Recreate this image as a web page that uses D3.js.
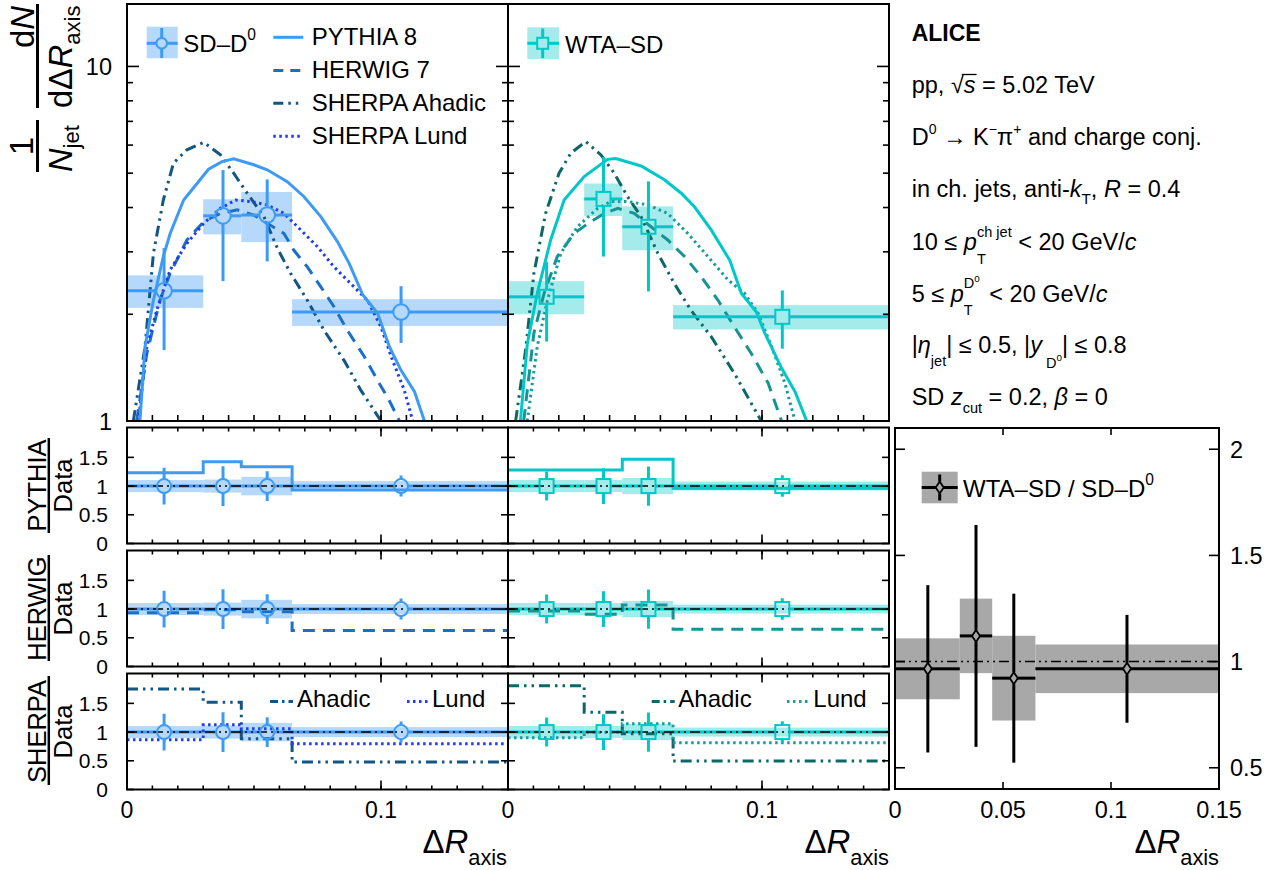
<!DOCTYPE html>
<html><head><meta charset="utf-8">
<script src="https://cdn.jsdelivr.net/npm/d3@7"></script>
<style>
html,body{margin:0;padding:0;background:#fff;}
svg{display:block;font-family:'Liberation Sans',Arial,Helvetica,sans-serif;}
svg text{white-space:pre;}
</style></head><body>
<svg id="c" width="1279" height="870"></svg>
<script>
// ---------------- DATA ----------------
const binEdges = [0, 0.03, 0.045, 0.065, 0.15];

// SD–D0 data
const sdX = [0.0146, 0.0378, 0.0552, 0.1079];
const sdY = [2.33, 3.79, 3.81, 2.03];
const sdStat = [0.745, 1.31, 0.99, 0.37];
const sdSys = [0.245, 0.43, 0.615, 0.176];

// WTA–SD data
const wtaX = [0.0152, 0.0376, 0.0553, 0.108];
const wtaY = [2.24, 4.23, 3.53, 1.967];
const wtaStat = [0.565, 1.32, 1.21, 0.368];
const wtaSys = [0.24, 0.445, 0.50, 0.155];

// WTA–SD / SD–D0 ratio
const ratioX = [0.0152, 0.0375, 0.055, 0.1074];
const ratioY = [0.966, 1.121, 0.922, 0.966];
const ratioStat = [0.394, 0.5225, 0.398, 0.254];
const ratioSys = [0.1435, 0.1755, 0.1995, 0.1145];

// Model curves, SD–D0 panel
const sdPythiaX = [0.0051,0.0071,0.0104,0.0143,0.0170,0.0223,0.0321,0.0374,0.0420,0.0499,0.0552,0.0631,0.0697,0.0763,0.0829,0.0875,0.0928,0.0987,0.1033,0.1079,0.1132,0.1171];
const sdPythiaY = [1.0,1.62,2.19,2.91,3.38,4.20,5.13,5.39,5.49,5.28,5.11,4.73,4.29,3.77,3.20,2.78,2.27,2.01,1.62,1.39,1.21,1.0];
const sdHerwigX = [0.0038,0.0078,0.0130,0.0170,0.0236,0.0302,0.0368,0.0434,0.0499,0.0552,0.0618,0.0657,0.0710,0.0763,0.0815,0.0868,0.0934,0.0987,0.1033,0.1073];
const sdHerwigY = [1.0,1.55,2.19,2.61,3.24,3.65,3.85,3.94,3.81,3.61,3.38,3.03,2.72,2.39,2.10,1.80,1.52,1.30,1.14,1.0];
const sdAhadicX = [0.0025,0.0071,0.0104,0.0143,0.0183,0.0236,0.0302,0.0368,0.0420,0.0473,0.0539,0.0592,0.0644,0.0710,0.0776,0.0855,0.0921,0.1000];
const sdAhadicY = [1.0,1.62,2.97,4.20,5.34,5.82,6.11,5.63,5.00,4.39,3.77,3.07,2.61,2.19,1.80,1.48,1.22,1.0];
const sdLundX = [0.0045,0.0078,0.0117,0.0170,0.0236,0.0302,0.0368,0.0427,0.0486,0.0552,0.0618,0.0684,0.0750,0.0815,0.0881,0.0947,0.1000,0.1046,0.1092,0.1125];
const sdLundY = [1.0,1.62,2.05,2.67,3.17,3.61,3.98,4.20,4.16,4.07,3.85,3.46,3.10,2.72,2.44,2.19,1.84,1.48,1.22,1.0];

// Model curves, WTA–SD panel
const wtaPythiaX = [0.0049,0.0076,0.0115,0.0168,0.0221,0.0300,0.0392,0.0425,0.0524,0.0616,0.0682,0.0734,0.0800,0.0873,0.0919,0.0978,0.1011,0.1077,0.1130,0.1176];
const wtaPythiaY = [1.0,1.65,2.29,3.24,4.20,4.89,5.47,5.50,5.24,4.79,4.39,4.02,3.46,2.84,2.29,2.03,1.77,1.41,1.21,1.0];
const wtaHerwigX = [0.0062,0.0102,0.0142,0.0194,0.0260,0.0326,0.0379,0.0432,0.0497,0.0563,0.0629,0.0695,0.0761,0.0827,0.0892,0.0958,0.1024,0.1077];
const wtaHerwigY = [1.0,1.77,2.29,2.91,3.38,3.65,3.85,3.98,3.85,3.53,3.24,2.91,2.55,2.19,1.84,1.55,1.28,1.0];
const wtaAhadicX = [0.0030,0.0069,0.0102,0.0148,0.0201,0.0247,0.0306,0.0366,0.0418,0.0471,0.0524,0.0590,0.0655,0.0721,0.0800,0.0892,0.0997];
const wtaAhadicY = [1.0,1.58,2.61,3.85,5.00,5.69,6.14,5.63,5.00,4.29,3.77,2.97,2.44,2.05,1.73,1.36,1.0];
const wtaLundX = [0.0076,0.0115,0.0155,0.0208,0.0273,0.0353,0.0405,0.0471,0.0550,0.0629,0.0708,0.0787,0.0866,0.0932,0.0985,0.1038,0.1090,0.1130];
const wtaLundY = [1.0,1.62,2.19,2.97,3.53,3.98,4.16,4.16,4.07,3.85,3.38,2.91,2.50,2.29,2.01,1.62,1.28,1.0];

// Model / Data ratios (per bin)
const sdPythiaRatio = [1.232, 1.424, 1.337, 0.93];
const sdHerwigRatio = [0.935, 0.99, 0.955, 0.625];
const sdAhadicRatio = [1.75, 1.518, 0.884, 0.478];
const sdLundRatio = [0.867, 1.127, 1.057, 0.797];
const wtaPythiaRatio = [1.279, 1.279, 1.466, 0.96];
const wtaHerwigRatio = [0.965, 0.908, 1.069, 0.648];
const wtaAhadicRatio = [1.808, 1.345, 0.971, 0.496];
const wtaLundRatio = [0.901, 0.998, 1.144, 0.815];

// Tick values
const topMajorY = [1, 10];
const topMinorY = [2,3,4,5,6,7,8,9];
const xMinorTicks = d3.range(16).map(i => i / 100);
const xMajorTicks = [0, 0.1];
const xTickLabels = [0, 0.1];
const ratioYTicks = [0, 0.5, 1, 1.5];
const rightXTicks = [0, 0.05, 0.1, 0.15];
const rightYTicks = [0.5, 1, 1.5, 2];

// ---------------- STYLE ----------------
const C = {
  sdData: '#3d9bf5', sdBox: '#b6d9fb', sdHerwig: '#1c6fc7', sdAhadic: '#135583', sdLund: '#1f3cf0',
  wtaData: '#00c8c8', wtaBox: '#a6ebeb', wtaHerwig: '#169494', wtaAhadic: '#0e6767', wtaLund: '#179c9c',
  grayBox: '#a8a8a8'
};
const DASH = { herwig: '12,8', ahadic: '11,5,2.5,5,2.5,5', lund: '2.5,3.5' };
const REFDASH = '10,4,2,4,2,4';

const svg = d3.select('#c');

// ---------------- SCALES ----------------
const xL = d3.scaleLinear().domain([0, 0.15]).range([127, 508]);
const xM = d3.scaleLinear().domain([0, 0.15]).range([508, 889]);
const xR = d3.scaleLinear().domain([0, 0.15]).range([895, 1219]);
const yT = d3.scaleLog().domain([1, 15]).range([421, 4]);
const rows = [{ y0: 427.5, y1: 543.5 }, { y0: 550.5, y1: 666.5 }, { y0: 673.5, y1: 789.5 }];
const yRows = rows.map(r => d3.scaleLinear().domain([0, 2.02]).range([r.y1, r.y0]));
const yRR = d3.scaleLinear().domain([0.4, 2.1]).range([789, 428]);

// ---------------- HELPERS ----------------
function rich(g, x, y, segs, fs, anchor) {
  const grp = g.append('g');
  let cx = x;
  for (const s of segs) {
    if (s.gap) { cx += s.gap; continue; }
    const size = fs * (s.s || 1);
    const t = grp.append('text').attr('x', cx).attr('y', y + (s.dy || 0) * fs)
      .attr('font-size', size).attr('fill', '#000').text(s.t);
    if (s.it) t.attr('font-style', 'italic');
    if (s.b) t.attr('font-weight', 'bold');
    const w = t.node().getComputedTextLength();
    if (s.over) grp.append('line').attr('x1', cx - 2).attr('x2', cx + w + 1)
      .attr('y1', y - 0.8 * fs).attr('y2', y - 0.8 * fs).attr('stroke', '#000').attr('stroke-width', 1.3);
    if (s.adv !== false) cx += w;
  }
  const W = cx - x;
  if (anchor === 'end') grp.attr('transform', `translate(${-W},0)`);
  else if (anchor === 'middle') grp.attr('transform', `translate(${-W / 2},0)`);
  return W;
}
function line(g, x1, y1, x2, y2, color, w, dash) {
  return g.append('line').attr('x1', x1).attr('y1', y1).attr('x2', x2).attr('y2', y2)
    .attr('stroke', color).attr('stroke-width', w).attr('stroke-dasharray', dash || null);
}
function marker(g, type, cx, cy, color, size) {
  if (type === 'circle') {
    g.append('circle').attr('cx', cx).attr('cy', cy).attr('r', size)
      .attr('fill', 'none').attr('stroke', color).attr('stroke-width', 2);
  } else if (type === 'square') {
    g.append('rect').attr('x', cx - size).attr('y', cy - size).attr('width', 2 * size).attr('height', 2 * size)
      .attr('fill', 'none').attr('stroke', color).attr('stroke-width', 2);
  } else {
    g.append('path').attr('d', `M${cx},${cy - size * 1.5}L${cx + size},${cy}L${cx},${cy + size * 1.5}L${cx - size},${cy}Z`)
      .attr('fill', 'none').attr('stroke', color).attr('stroke-width', 1.8);
  }
}
let clipId = 0;
function clipped(x0, x1, y0, y1) {
  const id = 'clip' + (clipId++);
  svg.append('clipPath').attr('id', id).append('rect').attr('x', x0).attr('y', y0).attr('width', x1 - x0).attr('height', y1 - y0);
  return svg.append('g').attr('clip-path', `url(#${id})`);
}
function xTicks(xs, yb, yt, vals, len) {
  vals.forEach(v => {
    const x = xs(v);
    if (yb !== null) line(svg, x, yb, x, yb - len, '#000', 1.6);
    if (yt !== null) line(svg, x, yt, x, yt + len, '#000', 1.6);
  });
}
function yTicks(ys, xl, xr, vals, len) {
  vals.forEach(v => {
    const y = ys(v);
    if (xl !== null) line(svg, xl, y, xl + len, y, '#000', 1.6);
    if (xr !== null) line(svg, xr, y, xr - len, y, '#000', 1.6);
  });
}

// ---------------- TOP PANELS ----------------
function topPanel(xs, d, col) {
  const [x0, x1] = xs.range();
  const g = clipped(x0, x1, 4, 421);
  d.y.forEach((v, i) => {
    g.append('rect').attr('x', xs(binEdges[i])).attr('width', xs(binEdges[i + 1]) - xs(binEdges[i]))
      .attr('y', yT(v + d.sys[i])).attr('height', yT(v - d.sys[i]) - yT(v + d.sys[i]))
      .attr('fill', col.box);
  });
  const ln = d3.line().x(p => xs(p[0])).y(p => yT(p[1]));
  d.models.forEach(m => {
    g.append('path').attr('d', ln(d3.zip(m.x, m.y))).attr('fill', 'none')
      .attr('stroke', m.color).attr('stroke-width', 3).attr('stroke-dasharray', m.dash);
  });
  const r = d.mk === 'circle' ? 7.8 : 7;
  d.y.forEach((v, i) => {
    const cx = xs(d.x[i]), cy = yT(v);
    line(g, xs(binEdges[i]), cy, cx - r, cy, col.data, 3);
    line(g, cx + r, cy, xs(binEdges[i + 1]), cy, col.data, 3);
    line(g, cx, yT(v + d.stat[i]), cx, cy - r, col.data, 3);
    line(g, cx, cy + r, cx, yT(v - d.stat[i]), col.data, 3);
    marker(g, d.mk, cx, cy, col.data, r);
  });
  svg.append('rect').attr('x', x0).attr('y', 4).attr('width', x1 - x0).attr('height', 417)
    .attr('fill', 'none').attr('stroke', '#000').attr('stroke-width', 2);
  yTicks(yT, x0, x1, topMajorY, 12);
  yTicks(yT, x0, x1, topMinorY, 6);
  xTicks(xs, 421, null, xMinorTicks, 6);
  xTicks(xs, 421, null, xMajorTicks, 11);
}

topPanel(xL, {
  x: sdX, y: sdY, stat: sdStat, sys: sdSys, mk: 'circle',
  models: [
    { x: sdAhadicX, y: sdAhadicY, color: C.sdAhadic, dash: DASH.ahadic },
    { x: sdHerwigX, y: sdHerwigY, color: C.sdHerwig, dash: DASH.herwig },
    { x: sdLundX, y: sdLundY, color: C.sdLund, dash: DASH.lund },
    { x: sdPythiaX, y: sdPythiaY, color: C.sdData, dash: null }
  ]
}, { data: C.sdData, box: C.sdBox });

topPanel(xM, {
  x: wtaX, y: wtaY, stat: wtaStat, sys: wtaSys, mk: 'square',
  models: [
    { x: wtaAhadicX, y: wtaAhadicY, color: C.wtaAhadic, dash: DASH.ahadic },
    { x: wtaHerwigX, y: wtaHerwigY, color: C.wtaHerwig, dash: DASH.herwig },
    { x: wtaLundX, y: wtaLundY, color: C.wtaLund, dash: DASH.lund },
    { x: wtaPythiaX, y: wtaPythiaY, color: C.wtaData, dash: null }
  ]
}, { data: C.wtaData, box: C.wtaBox });

topMajorY.forEach(v => {
  svg.append('text').attr('x', 112).attr('y', yT(v) + 8.5).attr('text-anchor', 'end')
    .attr('font-size', 23.5).text(v);
});

// ---------------- RATIO PANELS ----------------
function ratioPanel(xs, ys, row, d, col, models) {
  const [x0, x1] = xs.range();
  const g = clipped(x0, x1, row.y0, row.y1);
  const r = 7;
  d.y.forEach((v, i) => {
    const rs = d.sys[i] / v;
    g.append('rect').attr('x', xs(binEdges[i])).attr('width', xs(binEdges[i + 1]) - xs(binEdges[i]))
      .attr('y', ys(1 + rs)).attr('height', ys(1 - rs) - ys(1 + rs)).attr('fill', col.box);
  });
  d.y.forEach((v, i) => {
    const cx = xs(d.x[i]), cy = ys(1);
    line(g, xs(binEdges[i]), cy, cx - r, cy, col.data, 3);
    line(g, cx + r, cy, xs(binEdges[i + 1]), cy, col.data, 3);
  });
  const step = d3.line().curve(d3.curveStepAfter).x(p => xs(p[0])).y(p => ys(p[1]));
  models.forEach(m => {
    const pts = binEdges.map((e, i) => [e, m.vals[Math.min(i, m.vals.length - 1)]]);
    g.append('path').attr('d', step(pts)).attr('fill', 'none').attr('stroke', m.color)
      .attr('stroke-width', 3).attr('stroke-dasharray', m.dash);
  });
  line(g, x0, ys(1), x1, ys(1), '#000', 1.5, REFDASH);
  d.y.forEach((v, i) => {
    const cx = xs(d.x[i]), cy = ys(1), rst = d.stat[i] / v;
    line(g, cx, ys(1 + rst), cx, cy - r, col.data, 3);
    line(g, cx, cy + r, cx, ys(1 - rst), col.data, 3);
    marker(g, d.mk, cx, cy, col.data, r);
  });
  svg.append('rect').attr('x', x0).attr('y', row.y0).attr('width', x1 - x0).attr('height', row.y1 - row.y0)
    .attr('fill', 'none').attr('stroke', '#000').attr('stroke-width', 2);
  yTicks(ys, x0, x1, ratioYTicks, 7);
  xTicks(xs, row.y1, row.y0, xMinorTicks, 4);
  xTicks(xs, row.y1, row.y0, xMajorTicks, 9);
}

const sdD = { x: sdX, y: sdY, stat: sdStat, sys: sdSys, mk: 'circle' };
const wtaD = { x: wtaX, y: wtaY, stat: wtaStat, sys: wtaSys, mk: 'square' };
const sdCol = { data: C.sdData, box: C.sdBox };
const wtaCol = { data: C.wtaData, box: C.wtaBox };

ratioPanel(xL, yRows[0], rows[0], sdD, sdCol, [{ vals: sdPythiaRatio, color: C.sdData, dash: null }]);
ratioPanel(xL, yRows[1], rows[1], sdD, sdCol, [{ vals: sdHerwigRatio, color: C.sdHerwig, dash: DASH.herwig }]);
ratioPanel(xL, yRows[2], rows[2], sdD, sdCol, [
  { vals: sdAhadicRatio, color: C.sdAhadic, dash: DASH.ahadic },
  { vals: sdLundRatio, color: C.sdLund, dash: DASH.lund }]);
ratioPanel(xM, yRows[0], rows[0], wtaD, wtaCol, [{ vals: wtaPythiaRatio, color: C.wtaData, dash: null }]);
ratioPanel(xM, yRows[1], rows[1], wtaD, wtaCol, [{ vals: wtaHerwigRatio, color: C.wtaHerwig, dash: DASH.herwig }]);
ratioPanel(xM, yRows[2], rows[2], wtaD, wtaCol, [
  { vals: wtaAhadicRatio, color: C.wtaAhadic, dash: DASH.ahadic },
  { vals: wtaLundRatio, color: C.wtaLund, dash: DASH.lund }]);

yRows.forEach(ys => {
  ratioYTicks.forEach(v => {
    svg.append('text').attr('x', 108).attr('y', ys(v) + 7.5).attr('text-anchor', 'end')
      .attr('font-size', 21).text(v);
  });
});

[xL, xM].forEach(xs => {
  xTickLabels.forEach(v => {
    svg.append('text').attr('x', xs(v)).attr('y', 818).attr('text-anchor', 'middle')
      .attr('font-size', 23).text(v);
  });
});

// ---------------- RIGHT RATIO PANEL ----------------
(function () {
  const g = clipped(895, 1219, 428, 789);
  ratioY.forEach((v, i) => {
    g.append('rect').attr('x', xR(binEdges[i])).attr('width', xR(binEdges[i + 1]) - xR(binEdges[i]))
      .attr('y', yRR(v + ratioSys[i])).attr('height', yRR(v - ratioSys[i]) - yRR(v + ratioSys[i]))
      .attr('fill', C.grayBox);
  });
  line(g, 895, yRR(1), 1219, yRR(1), '#000', 1.5, REFDASH);
  ratioY.forEach((v, i) => {
    const cx = xR(ratioX[i]), cy = yRR(v), r = 6;
    line(g, xR(binEdges[i]), cy, cx - 4, cy, '#000', 3);
    line(g, cx + 4, cy, xR(binEdges[i + 1]), cy, '#000', 3);
    line(g, cx, yRR(v + ratioStat[i]), cx, cy - r, '#000', 3);
    line(g, cx, cy + r, cx, yRR(v - ratioStat[i]), '#000', 3);
    marker(g, 'diamond', cx, cy, '#000', 4);
  });
  svg.append('rect').attr('x', 895).attr('y', 428).attr('width', 324).attr('height', 361)
    .attr('fill', 'none').attr('stroke', '#000').attr('stroke-width', 2);
  yTicks(yRR, 895, 1219, rightYTicks, 10);
  xTicks(xR, 789, 428, rightXTicks, 7);
  rightYTicks.forEach(v => {
    svg.append('text').attr('x', 1230).attr('y', yRR(v) + 8.5).attr('font-size', 23.5).text(v);
  });
  rightXTicks.forEach(v => {
    svg.append('text').attr('x', xR(v)).attr('y', 818).attr('text-anchor', 'middle')
      .attr('font-size', 23.5).text(v);
  });
  svg.append('rect').attr('x', 921.7).attr('y', 471.7).attr('width', 36).attr('height', 31.6).attr('fill', C.grayBox);
  line(svg, 921.7, 487.5, 935.7, 487.5, '#000', 3);
  line(svg, 943.7, 487.5, 957.7, 487.5, '#000', 3);
  line(svg, 939.7, 474.5, 939.7, 481.5, '#000', 3);
  line(svg, 939.7, 493.5, 939.7, 500.5, '#000', 3);
  marker(svg, 'diamond', 939.7, 487.5, '#000', 4);
  rich(svg, 963, 497, [{ t: 'WTA–SD / SD–D' }, { t: '0', s: 0.65, dy: -0.5 }], 24);
})();

// ---------------- LEGENDS ----------------
svg.append('rect').attr('x', 146.7).attr('y', 26.7).attr('width', 31).attr('height', 31.6).attr('fill', C.sdBox);
line(svg, 146.7, 43.3, 156.4, 43.3, C.sdData, 3);
line(svg, 167, 43.3, 177.7, 43.3, C.sdData, 3);
line(svg, 161.7, 28, 161.7, 38, C.sdData, 3);
line(svg, 161.7, 48.6, 161.7, 58, C.sdData, 3);
marker(svg, 'circle', 161.7, 43.3, C.sdData, 5.3);
rich(svg, 183.3, 51.7, [{ t: 'SD–D' }, { t: '0', s: 0.65, dy: -0.5 }], 24);

const legRows = [
  { label: 'PYTHIA 8', color: C.sdData, dash: null, y: 45 },
  { label: 'HERWIG 7', color: C.sdHerwig, dash: '10,7', y: 78.3 },
  { label: 'SHERPA Ahadic', color: C.sdAhadic, dash: '10,5,2.5,5,2.5,5', y: 111 },
  { label: 'SHERPA Lund', color: C.sdLund, dash: DASH.lund, y: 144 }
];
legRows.forEach(rw => {
  line(svg, 273.3, rw.y - 7.7, 303.3, rw.y - 7.7, rw.color, 3, rw.dash);
  svg.append('text').attr('x', 311.7).attr('y', rw.y).attr('font-size', 24).text(rw.label);
});

svg.append('rect').attr('x', 527.3).attr('y', 27.3).attr('width', 31.7).attr('height', 31.7).attr('fill', C.wtaBox);
line(svg, 527.3, 43.3, 537.2, 43.3, C.wtaData, 3);
line(svg, 548.2, 43.3, 559, 43.3, C.wtaData, 3);
line(svg, 542.7, 28.5, 542.7, 37.8, C.wtaData, 3);
line(svg, 542.7, 48.8, 542.7, 58, C.wtaData, 3);
marker(svg, 'square', 542.7, 43.3, C.wtaData, 5.5);
svg.append('text').attr('x', 565).attr('y', 52.7).attr('font-size', 24).text('WTA–SD');

[[270, 297, 407, 432, C.sdAhadic, C.sdLund], [651.7, 678.3, 787, 813.3, C.wtaAhadic, C.wtaLund]].forEach(a => {
  line(svg, a[0], 701.5, a[0] + 23, 701.5, a[4], 3, '8,4,2.5,4');
  svg.append('text').attr('x', a[1]).attr('y', 707).attr('font-size', 24).text('Ahadic');
  line(svg, a[2], 701.5, a[2] + 23, 701.5, a[5], 3, DASH.lund);
  svg.append('text').attr('x', a[3]).attr('y', 707).attr('font-size', 24).text('Lund');
});

// ---------------- AXIS TITLES ----------------
[507, 889, 1219].forEach(xe => {
  rich(svg, xe, 852.5, [{ t: 'Δ' }, { t: 'R', it: true }, { t: 'axis', s: 0.66, dy: 0.38 }], 33, 'end');
});

(function () {
  const g = svg.append('g').attr('transform', 'rotate(-90)');
  rich(g, -27, 34, [{ t: 'd' }, { t: 'N', it: true }], 33, 'middle');
  line(g, -4, 37.5, -108, 37.5, '#000', 3);
  rich(g, -108, 71.5, [{ t: 'd' }, { t: 'Δ' }, { t: 'R', it: true }, { t: 'axis', s: 0.68, dy: 0.26 }], 32.5);
  rich(g, -146, 33, [{ t: '1' }], 33, 'middle');
  line(g, -120, 37.5, -172, 37.5, '#000', 3);
  rich(g, -172, 72, [{ t: 'N', it: true }, { t: 'jet', s: 0.68, dy: 0.22 }], 32.5);

  const titles = ['PYTHIA', 'HERWIG', 'SHERPA'];
  const bars = [[438, 533], [555, 661], [676, 785]];
  rows.forEach((rw, i) => {
    const c = (rw.y0 + rw.y1) / 2;
    rich(g, -c, 46, [{ t: titles[i] }], 25.5, 'middle');
    line(g, -bars[i][0], 48.8, -bars[i][1], 48.8, '#000', 2.5);
    rich(g, -c, 71.5, [{ t: 'Data' }], 25.5, 'middle');
  });
})();

// ---------------- INFO TEXT ----------------
(function () {
  const X = 911.7, fs = 23.5;
  rich(svg, X, 40.7, [{ t: 'ALICE', b: true }], 23);
  rich(svg, X, 93.3, [{ t: 'pp, ' }, { t: '√' }, { t: 's', it: true, over: true }, { t: ' = 5.02 TeV' }], fs);
  rich(svg, X, 145, [{ t: 'D' }, { t: '0', s: 0.6, dy: -0.45 }, { t: ' → K' }, { t: '−', s: 0.6, dy: -0.45 },
    { t: 'π' }, { t: '+', s: 0.6, dy: -0.45 }, { t: ' and charge conj.' }], fs);
  rich(svg, X, 196.7, [{ t: 'in ch. jets, anti-' }, { t: 'k', it: true }, { t: 'T', s: 0.65, dy: 0.3 },
    { t: ', ' }, { t: 'R', it: true }, { t: ' = 0.4' }], fs);
  rich(svg, X, 250, [{ t: '10 ≤ ' }, { t: 'p', it: true }, { t: 'T', s: 0.62, dy: 0.58, adv: false },
    { t: 'ch jet', s: 0.62, dy: -0.56 }, { t: ' < 20 GeV/' }, { t: 'c', it: true }], fs);
  rich(svg, X, 301.7, [{ t: '5 ≤ ' }, { t: 'p', it: true }, { t: 'T', s: 0.62, dy: 0.58, adv: false },
    { t: 'D', s: 0.62, dy: -0.58 }, { t: '0', s: 0.42, dy: -0.85 }, { gap: 3 }, { t: ' < 20 GeV/' }, { t: 'c', it: true }], fs);
  rich(svg, X, 353.3, [{ t: '|' }, { t: 'η', it: true }, { t: 'jet', s: 0.62, dy: 0.55 }, { t: '| ≤ 0.5, |' },
    { t: 'y', it: true }, { gap: 4 }, { t: 'D', s: 0.62, dy: 0.62 }, { t: '0', s: 0.42, dy: 0.33 }, { t: '| ≤ 0.8' }], fs);
  rich(svg, X, 405, [{ t: 'SD ' }, { t: 'z', it: true }, { t: 'cut', s: 0.62, dy: 0.36 }, { t: ' = 0.2, ' },
    { t: 'β', it: true }, { t: ' = 0' }], fs);
})();
</script></body></html>
